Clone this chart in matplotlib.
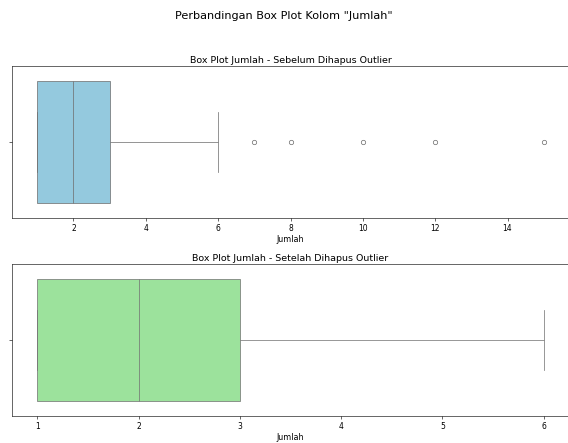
import numpy as np
import pandas as pd
import matplotlib
matplotlib.use("Agg")
import matplotlib.pyplot as plt
import seaborn as sns

# Data: distinct "Jumlah" values and how often each occurs
jumlah_values = [1, 2, 3, 4, 5, 6, 7, 8, 10, 12, 15]
jumlah_counts = [30, 25, 20, 8, 5, 3, 1, 1, 1, 1, 1]

title_main = 'Perbandingan Box Plot Kolom "Jumlah"'
title_before = "Box Plot Jumlah - Sebelum Dihapus Outlier"
title_after = "Box Plot Jumlah - Setelah Dihapus Outlier"
xlabel = "Jumlah"

data = pd.Series(np.repeat(jumlah_values, jumlah_counts), name="Jumlah")
q1, q3 = data.quantile(0.25), data.quantile(0.75)
iqr = q3 - q1
clean = data[(data >= q1 - 1.5 * iqr) & (data <= q3 + 1.5 * iqr)]

FW = 10.8
DPI = 568 / FW
fig = plt.figure(figsize=(FW, 444 / DPI), dpi=DPI)

W, H = 568, 444
def pos(l, r, t, b):
    return [l / W, 1 - b / H, (r - l) / W, (b - t) / H]

ax1 = fig.add_axes(pos(12, 569, 67, 219))
ax2 = fig.add_axes(pos(12, 569, 265, 417))

for ax, d, c, t in [(ax1, data, "skyblue", title_before),
                    (ax2, clean, "lightgreen", title_after)]:
    sns.boxplot(x=d, color=c, ax=ax)
    ax.set_title(t, fontsize=13)
    ax.set_xlabel(xlabel, fontsize=11, labelpad=2.5)
    ax.tick_params(axis="both", labelsize=10.5)

fig.suptitle(title_main, fontsize=15.5, y=1 - 16 / H, va="center")

fig.savefig("out.png", dpi=DPI)
